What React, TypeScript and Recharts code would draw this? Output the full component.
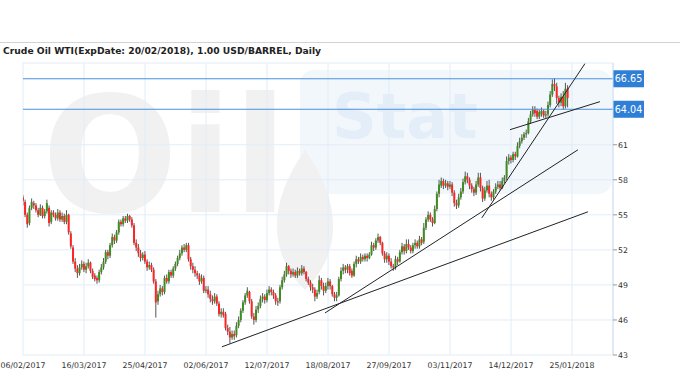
import React from "react";
import { Bar, CartesianGrid, ComposedChart, ReferenceLine, XAxis, YAxis } from "recharts";

// daily bars, Feb 2017 .. end of Jan 2018
const opens = [
  56.5, 56.1, 55.0, 54.3, 55.6, 56.0, 55.8, 55.4, 55.0, 55.6,
  54.9, 55.3, 55.6, 54.4, 55.2, 55.0, 54.7, 55.2, 54.6, 54.9,
  54.4, 55.0, 53.4, 52.2, 51.0, 50.4, 50.0, 50.5, 50.8, 50.3,
  50.6, 50.9, 50.2, 49.8, 49.6, 49.4, 50.1, 50.5, 51.0, 51.8,
  51.5, 52.4, 53.1, 52.8, 53.5, 54.4, 54.2, 54.7, 54.5, 54.9,
  54.6, 54.1, 52.6, 52.2, 51.7, 51.3, 51.6, 51.0, 50.5, 50.7,
  50.3, 49.3, 47.6, 48.2, 48.7, 48.4, 49.6, 49.3, 50.1, 49.8,
  50.4, 50.8, 51.3, 51.7, 52.2, 52.0, 52.4, 51.2, 50.6, 50.3,
  50.0, 49.8, 49.3, 49.6, 48.5, 48.6, 48.2, 47.8, 47.6, 48.0,
  47.4, 46.5, 46.7, 46.5, 45.3, 45.0, 44.5, 44.8, 44.7, 45.5,
  46.0, 46.8, 47.5, 48.1, 48.4, 47.6, 46.3, 46.0, 46.9, 47.2,
  47.8, 48.0, 47.7, 48.3, 48.6, 48.4, 48.1, 47.6, 47.6, 48.8,
  49.4, 49.9, 50.6, 50.2, 49.9, 50.1, 49.8, 50.2, 50.0, 50.4,
  50.1, 49.5, 49.2, 48.8, 48.6, 48.0, 48.4, 49.4, 48.9, 48.5,
  48.9, 49.3, 48.9, 48.2, 47.9, 48.1, 49.5, 50.2, 50.5, 50.3,
  50.6, 50.2, 49.8, 50.8, 51.2, 51.0, 51.4, 51.2, 51.5, 51.3,
  51.6, 52.4, 52.2, 52.8, 53.1, 52.6, 51.7, 51.2, 51.5, 51.0,
  50.6, 50.5, 51.2, 51.0, 51.8, 52.3, 51.9, 52.5, 52.2, 51.9,
  52.4, 52.6, 52.3, 52.9, 52.7, 53.9, 54.6, 55.0, 54.6, 54.3,
  55.5, 56.8, 57.5, 57.9, 57.5, 57.7, 57.4, 57.6, 56.9, 56.0,
  55.8, 56.5, 57.0, 57.8, 58.3, 58.0, 57.5, 57.2, 56.9, 57.6,
  58.2, 57.3, 56.4, 57.1, 57.5, 56.8, 56.5, 57.0, 57.4, 57.6,
  57.3, 57.9, 58.2, 59.6, 59.9, 59.7, 60.2, 60.0, 60.9, 61.3,
  61.6, 61.9, 62.0, 63.0, 63.6, 64.0, 63.9, 63.4, 63.6, 63.9,
  63.5, 63.6, 64.4, 65.3, 66.2, 66.0, 65.0, 64.6, 65.1, 64.3,
  65.8,
];
const highs = [
  56.7, 56.3, 55.2, 55.8, 56.4, 56.2, 56.0, 55.6, 55.9, 55.8,
  55.5, 56.3, 55.8, 55.4, 55.4, 55.2, 55.5, 55.4, 55.2, 55.1,
  55.4, 55.1, 53.6, 52.4, 51.3, 50.7, 50.8, 51.1, 51.0, 50.9,
  51.2, 51.0, 50.4, 50.0, 49.8, 50.3, 50.8, 51.3, 52.0, 52.0,
  52.6, 53.4, 53.3, 53.7, 54.6, 54.6, 54.9, 54.9, 55.1, 55.0,
  54.8, 54.3, 52.9, 52.5, 52.0, 51.8, 51.9, 51.2, 51.0, 50.9,
  50.5, 49.5, 48.5, 49.0, 48.9, 49.8, 49.9, 50.3, 50.3, 50.6,
  51.0, 51.5, 52.0, 52.4, 52.5, 52.6, 52.6, 51.4, 50.9, 50.6,
  50.2, 50.0, 49.9, 49.8, 48.9, 48.9, 48.5, 48.1, 48.3, 48.2,
  47.6, 47.0, 47.0, 46.7, 45.6, 45.4, 45.1, 45.1, 45.8, 46.3,
  47.0, 47.7, 48.3, 48.8, 48.5, 47.8, 46.6, 47.2, 47.5, 48.1,
  48.3, 48.2, 48.6, 48.9, 48.8, 48.6, 48.3, 47.9, 49.0, 49.7,
  50.2, 50.9, 50.7, 50.4, 50.4, 50.3, 50.5, 50.4, 50.7, 50.6,
  50.2, 49.7, 49.4, 49.1, 48.8, 48.6, 49.8, 49.6, 49.2, 49.2,
  49.6, 49.5, 49.0, 48.4, 48.4, 49.7, 50.5, 50.8, 50.7, 50.8,
  50.8, 50.4, 51.0, 51.5, 51.4, 51.7, 51.6, 51.7, 51.7, 51.8,
  52.7, 52.6, 53.0, 53.4, 53.2, 52.7, 51.9, 51.8, 51.7, 51.3,
  50.8, 51.5, 51.4, 52.0, 52.6, 52.5, 52.9, 52.9, 52.4, 52.6,
  52.9, 52.8, 53.2, 53.1, 54.3, 54.8, 55.3, 55.2, 54.8, 55.8,
  57.0, 58.0, 58.2, 58.1, 58.0, 57.9, 57.9, 57.8, 57.1, 56.3,
  56.8, 57.3, 58.1, 58.7, 58.6, 58.2, 57.7, 57.4, 57.9, 58.6,
  58.6, 57.5, 57.4, 57.9, 58.0, 57.0, 57.2, 57.7, 57.9, 57.9,
  58.2, 58.4, 60.0, 60.2, 60.1, 60.4, 60.4, 61.2, 61.6, 61.9,
  62.1, 62.3, 63.3, 63.9, 64.3, 64.3, 64.1, 64.0, 64.2, 64.0,
  63.9, 64.7, 65.6, 66.6, 66.7, 66.3, 65.2, 65.4, 65.6, 66.3,
  66.1,
];
const lows = [
  55.8, 54.8, 53.9, 54.1, 55.4, 55.5, 55.2, 54.8, 54.9, 54.7,
  54.7, 55.1, 54.0, 54.2, 54.8, 54.5, 54.5, 54.4, 54.4, 54.2,
  54.2, 53.3, 52.1, 50.8, 50.1, 49.6, 49.8, 50.3, 50.1, 50.0,
  50.4, 50.0, 49.5, 49.3, 49.1, 49.2, 49.9, 50.3, 50.8, 51.2,
  51.3, 52.2, 52.5, 52.6, 53.3, 54.0, 54.0, 54.3, 54.3, 54.4,
  53.9, 52.4, 51.9, 51.4, 51.0, 51.1, 50.8, 50.2, 50.3, 50.1,
  49.1, 46.2, 47.3, 48.0, 48.1, 48.2, 49.1, 49.1, 49.6, 49.6,
  50.2, 50.6, 51.1, 51.5, 51.8, 51.8, 51.0, 50.3, 50.0, 49.7,
  49.5, 49.0, 49.1, 48.3, 48.3, 47.9, 47.5, 47.3, 47.4, 47.2,
  46.3, 46.2, 46.2, 45.1, 44.7, 44.0, 44.3, 44.3, 44.5, 45.3,
  45.8, 46.6, 47.3, 47.9, 47.4, 46.1, 45.6, 45.8, 46.6, 47.0,
  47.5, 47.4, 47.5, 48.1, 48.1, 47.8, 47.3, 47.2, 47.4, 48.6,
  49.2, 49.7, 49.9, 49.6, 49.7, 49.6, 49.6, 49.8, 49.8, 49.9,
  49.3, 49.0, 48.5, 48.3, 47.6, 47.8, 48.2, 48.6, 48.1, 48.3,
  48.6, 48.6, 48.0, 47.6, 47.6, 48.0, 49.3, 49.9, 50.0, 50.0,
  49.8, 49.6, 49.7, 50.5, 50.8, 50.8, 51.0, 51.0, 51.0, 51.2,
  51.5, 51.9, 52.0, 52.6, 52.4, 51.5, 50.9, 50.9, 50.7, 50.4,
  50.2, 50.3, 50.7, 50.9, 51.6, 51.6, 51.7, 52.0, 51.7, 51.7,
  52.1, 52.1, 52.1, 52.4, 52.5, 53.7, 54.4, 54.4, 54.0, 54.2,
  55.3, 56.5, 57.3, 57.2, 57.3, 57.1, 57.2, 56.6, 55.7, 55.5,
  55.6, 56.3, 56.8, 57.6, 57.7, 57.2, 56.9, 56.6, 56.7, 57.4,
  57.0, 56.1, 56.2, 56.9, 56.5, 56.2, 56.3, 56.8, 57.2, 57.1,
  57.2, 57.7, 58.0, 59.3, 59.4, 59.5, 59.7, 59.9, 60.7, 61.1,
  61.4, 61.6, 61.9, 62.8, 63.4, 63.4, 63.2, 63.2, 63.4, 63.3,
  63.3, 63.4, 64.2, 65.1, 65.6, 64.5, 64.2, 64.3, 64.0, 64.1,
  64.2,
];
const closes = [
  56.2, 55.0, 54.2, 55.6, 56.1, 55.8, 55.4, 55.0, 55.6, 54.9,
  55.3, 56.0, 54.3, 55.2, 55.0, 54.7, 55.2, 54.6, 54.9, 54.4,
  55.0, 53.5, 52.3, 51.0, 50.4, 50.0, 50.5, 50.8, 50.3, 50.6,
  50.9, 50.2, 49.7, 49.5, 49.4, 50.1, 50.5, 51.0, 51.8, 51.5,
  52.4, 53.1, 52.8, 53.5, 54.4, 54.2, 54.7, 54.5, 54.9, 54.6,
  54.1, 52.6, 52.2, 51.7, 51.3, 51.6, 51.0, 50.5, 50.7, 50.3,
  49.3, 47.5, 48.2, 48.7, 48.4, 49.6, 49.3, 50.1, 49.8, 50.4,
  50.8, 51.3, 51.7, 52.2, 52.0, 52.4, 51.2, 50.6, 50.3, 50.0,
  49.8, 49.3, 49.6, 48.5, 48.6, 48.2, 47.8, 47.6, 48.0, 47.4,
  46.5, 46.7, 46.4, 45.3, 45.0, 44.5, 44.8, 44.6, 45.5, 46.0,
  46.8, 47.5, 48.1, 48.5, 47.6, 46.3, 46.0, 46.9, 47.2, 47.8,
  48.0, 47.7, 48.3, 48.6, 48.4, 48.1, 47.6, 47.5, 48.8, 49.4,
  49.9, 50.6, 50.2, 49.9, 50.1, 49.8, 50.2, 50.0, 50.4, 50.1,
  49.5, 49.2, 48.8, 48.6, 48.0, 48.3, 49.4, 48.9, 48.5, 48.9,
  49.3, 48.9, 48.2, 47.9, 48.1, 49.5, 50.2, 50.5, 50.3, 50.6,
  50.0, 49.8, 50.8, 51.2, 51.0, 51.4, 51.2, 51.5, 51.3, 51.6,
  52.4, 52.2, 52.8, 53.1, 52.6, 51.7, 51.2, 51.5, 51.0, 50.6,
  50.5, 51.2, 51.0, 51.8, 52.3, 51.9, 52.5, 52.2, 51.9, 52.4,
  52.6, 52.3, 52.9, 52.6, 53.9, 54.6, 55.0, 54.6, 54.3, 55.5,
  56.8, 57.6, 57.9, 57.5, 57.7, 57.4, 57.6, 56.9, 56.0, 55.8,
  56.5, 57.0, 57.8, 58.3, 58.0, 57.5, 57.2, 56.9, 57.6, 58.2,
  57.3, 56.4, 57.1, 57.5, 56.8, 56.5, 57.0, 57.4, 57.6, 57.3,
  57.9, 58.2, 59.6, 59.9, 59.7, 60.2, 60.0, 60.9, 61.3, 61.6,
  61.9, 62.0, 63.0, 63.6, 64.0, 63.7, 63.4, 63.8, 63.9, 63.5,
  63.6, 64.4, 65.3, 66.2, 66.0, 65.0, 64.6, 65.1, 64.3, 65.8,
  65.0,
];

const dateLabels = [
  "06/02/2017", "16/03/2017", "25/04/2017", "02/06/2017", "12/07/2017",
  "18/08/2017", "27/09/2017", "03/11/2017", "14/12/2017", "25/01/2018",
];
const dateTicks = [0, 28, 56, 84, 112, 140, 168, 196, 224, 252];
const priceTicks = [43, 46, 49, 52, 55, 58, 61];
const levels = [66.65, 64.04];
// trend lines drawn on the original: [bar from, price from, bar to, price to]
const trendLines = [
  [91.3, 43.7, 259.3, 55.26],
  [138.6, 46.6, 254.7, 60.57],
  [210.6, 54.74, 257.9, 67.94],
  [223.5, 62.29, 264.8, 64.69],
];

const data = closes.map((c, i) => ({
  i, o: opens[i], h: highs[i], l: lows[i], c, range: [lows[i], highs[i]],
}));

const FONT = "'DejaVu Sans', Verdana, sans-serif";

function Candle(props: any) {
  const { x, y, width, height, payload } = props;
  if (x == null || y == null) return null;
  const top = Math.min(y, y + height);
  const hgt = Math.abs(height);
  const { o, h, l, c } = payload;
  const span = h - l || 1;
  const yOf = (v: number) => top + ((h - v) / span) * hgt;
  const cx = x + width / 2;
  const bTop = yOf(Math.max(o, c));
  const bBot = yOf(Math.min(o, c));
  return (
    <g>
      <line x1={cx} x2={cx} y1={top} y2={top + hgt} stroke="#555" strokeWidth={1} />
      <rect x={cx - 1} y={bTop} width={2} height={Math.max(1, bBot - bTop)}
        fill={c >= o ? "#3f8c1f" : "#ff2424"} />
    </g>
  );
}

function PriceTag({ viewBox, text }: any) {
  if (!viewBox) return null;
  const { x, y, width } = viewBox;
  const left = x + width;
  return (
    <g>
      <rect x={left} y={y - 8.5} width={31} height={17} fill="#2e7fd5" />
      <text x={left + 15.5} y={y + 3.5} fill="#fff" fontSize={9.6} fontFamily={FONT} textAnchor="middle">
        {text}
      </text>
    </g>
  );
}

// faint "OilStat" logo behind the plot
function Watermark() {
  return (
    <svg width={680} height={380} style={{ position: "absolute", left: 0, top: 0 }}>
      <rect x={300} y={70} width={312} height={124} rx={14} fill="#f2f7fc" />
      <text x={42} y={212} fontSize={160} fontWeight="bold" fontFamily={FONT} fill="#f1f1f1">Oil</text>
      <text x={332} y={138} fontSize={62} fontWeight="bold" fontFamily={FONT} fill="#e4eef9">Stat</text>
      <path d="M305 150 C 340 200, 345 250, 305 290 C 265 250, 270 200, 305 150 Z" fill="#f1f1f1" />
    </svg>
  );
}

export default function App() {
  return (
    <div style={{ position: "absolute", left: 0, top: 0, width: 680, height: 380, background: "#fff", fontFamily: FONT }}>
      <Watermark />
      <div style={{ position: "absolute", left: 0, top: 42, width: 680, height: 1, background: "#d3d3d3" }} />
      <div style={{ position: "absolute", left: 3, top: 45, fontSize: 9.2, fontWeight: "bold", color: "#222", whiteSpace: "nowrap" }}>
        Crude Oil WTI(ExpDate: 20/02/2018), 1.00 USD/BARREL, Daily
      </div>
      <div style={{ position: "absolute", left: 0, top: 0 }}>
        <ComposedChart width={680} height={380} data={data} margin={{ top: 63, right: 0, bottom: 5, left: 23 }}>
          <CartesianGrid stroke="#e2ecf7" />
          <XAxis type="number" dataKey="i" domain={[0, 270.8]} ticks={dateTicks} interval={0}
            tickFormatter={(v) => dateLabels[dateTicks.indexOf(v)] ?? ""}
            axisLine={false} tickLine={false} tickSize={0} tickMargin={7} height={20}
            tick={{ fontSize: 7.8, fill: "#333", fontFamily: FONT }} allowDataOverflow />
          <YAxis orientation="right" domain={[43, 68]} ticks={priceTicks} interval={0} width={67}
            axisLine={{ stroke: "#cfe0f2" }} tickLine={{ stroke: "#999" }} tickSize={4} tickMargin={1}
            tick={{ fontSize: 7.8, fill: "#333", fontFamily: FONT, textAnchor: "start" }} allowDataOverflow />
          {levels.map((v) => (
            <ReferenceLine key={v} y={v} stroke="#4a90dc" strokeWidth={1}
              label={(p: any) => <PriceTag {...p} text={v.toFixed(2)} />} />
          ))}
          <Bar dataKey="range" barSize={2} shape={<Candle />} isAnimationActive={false} />
          {trendLines.map(([x1, y1, x2, y2], k) => (
            <ReferenceLine key={k} ifOverflow="visible" stroke="#222" strokeWidth={1}
              segment={[{ x: x1, y: y1 }, { x: x2, y: y2 }]} />
          ))}
        </ComposedChart>
      </div>
    </div>
  );
}
